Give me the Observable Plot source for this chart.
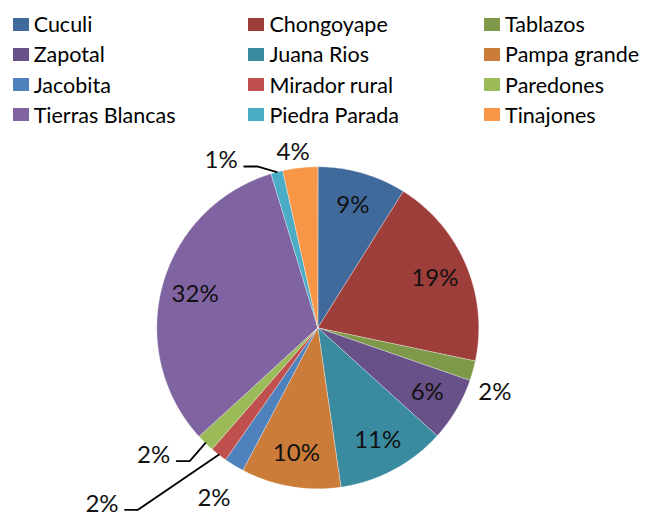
<!DOCTYPE html>
<html><head><meta charset="utf-8">
<script src="https://cdn.jsdelivr.net/npm/d3@7"></script>
<script src="https://cdn.jsdelivr.net/npm/@observablehq/plot@0.6"></script>
<style>
body{margin:0;background:#fff;font-family:Lato,sans-serif;}
#legend{display:grid;grid-template-columns:235.7px 235.7px 160px;padding:9px 0 0 12.7px;height:121px;box-sizing:content-box;}
.item{display:flex;align-items:center;height:30px;font-size:21.5px;color:#000;white-space:nowrap;}
.sw{width:16px;height:13px;margin-right:5px;flex:none;}
#chart svg{display:block;}
</style></head><body>
<div id="legend"></div><div id="chart"></div>
<script>
// Data
const names = ["Cuculi","Chongoyape","Tablazos","Zapotal","Juana Rios","Pampa grande","Jacobita","Mirador rural","Paredones","Tierras Blancas","Piedra Parada","Tinajones"];
const values = [8.9, 19.4, 2.0, 6.4, 11.0, 10.0, 2.0, 1.7, 1.8, 32.1, 1.2, 3.5];
const colors = ["#406A9B","#9E3E3B","#7F994A","#685088","#3A8BA0","#CC7C39","#4F81BD","#C0504D","#9BBB59","#8064A2","#4BACC6","#F79646"];

// Label placement (radius factor, angle in degrees or null = mid angle, leader line)
const outside = {
  "Tablazos": {r: 1.17, a: 110, leader: false},
  "Jacobita": {r: 1.24, a: null, leader: false},
  "Mirador rural": {r: 1.73, a: 230.8, leader: true},
  "Paredones": {r: 1.29, a: 232.2, leader: true},
  "Piedra Parada": {r: 1.20, a: 330, leader: true},
  "Tinajones": {r: 1.10, a: 352, leader: false}
};
const insideR = 0.79;

// Legend
const legend = document.getElementById("legend");
names.forEach((n, i) => {
  const it = document.createElement("div"); it.className = "item";
  const sw = document.createElement("span"); sw.className = "sw"; sw.style.background = colors[i];
  const tx = document.createElement("span"); tx.textContent = n;
  it.append(sw, tx); legend.append(it);
});

// Geometry
const W = 648, H = 388, cx = 317.3, cy = 197.3, R = 161;
const arcs = d3.pie().sort(null).value(d => d)(values);
const deg = Math.PI / 180;
const pt = (r, th) => [r * Math.sin(th), r * Math.cos(th)];

const slicePts = [];
arcs.forEach((a, i) => {
  const n = Math.max(2, Math.ceil((a.endAngle - a.startAngle) / 0.01));
  slicePts.push({name: names[i], x: 0, y: 0});
  for (let k = 0; k <= n; k++) {
    const th = a.startAngle + (a.endAngle - a.startAngle) * k / n;
    const [x, y] = pt(R, th);
    slicePts.push({name: names[i], x, y});
  }
});

const labels = [];
const leaders = [];
arcs.forEach((a, i) => {
  const mid = (a.startAngle + a.endAngle) / 2;
  const o = outside[names[i]];
  const text = Math.round(values[i]) + "%";
  let x, y;
  if (o) {
    const th = o.a == null ? mid : o.a * deg;
    [x, y] = pt(o.r * R, th);
  } else {
    [x, y] = pt(insideR * R, mid);
  }
  labels.push({x, y, text});
  if (o && o.leader) {
    const [ex, ey] = pt(R, mid);
    const halfW = 18, gap = 5, len = 13, ly = y - 6;
    leaders.push({name: names[i], x: ex, y: ey});
    leaders.push({name: names[i], x: x + halfW + gap + len, y: ly});
    leaders.push({name: names[i], x: x + halfW + gap, y: ly});
  }
});

const chart = Plot.plot({
  width: W, height: H,
  marginTop: 0, marginRight: 0, marginBottom: 0, marginLeft: 0,
  x: {domain: [-cx, W - cx], range: [0, W], axis: null},
  y: {domain: [-(H - cy), cy], range: [H, 0], axis: null},
  color: {domain: names, range: colors},
  style: {fontFamily: "Lato, sans-serif", background: "#fff"},
  marks: [
    Plot.line(slicePts, {x: "x", y: "y", z: "name", fill: "name", stroke: "#ffffff", strokeWidth: 0.6, strokeOpacity: 0.6, curve: "linear-closed"}),
    Plot.line(leaders, {x: "x", y: "y", z: "name", stroke: "#000", strokeWidth: 1.8}),
    Plot.text(labels, {x: "x", y: "y", text: "text", fontSize: 24, fill: "#111"})
  ]
});
document.getElementById("chart").append(chart);
</script>
</body></html>
